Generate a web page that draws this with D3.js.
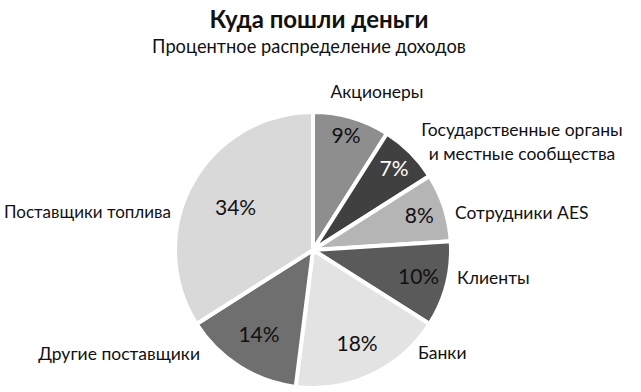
<!DOCTYPE html>
<html><head><meta charset="utf-8">
<script src="https://cdn.jsdelivr.net/npm/d3@7"></script>
<style>body{margin:0;background:#fff}</style>
</head><body>
<svg id="c" width="641" height="392"></svg>
<script>
const categories = ["Акционеры", "Государственные органы и местные сообщества", "Сотрудники AES", "Клиенты", "Банки", "Другие поставщики", "Поставщики топлива"];
const values = [9, 7, 8, 10, 18, 14, 34];
const colors = ["#8e8e8e", "#404040", "#b5b5b5", "#5a5a5a", "#e3e3e3", "#6f6f6f", "#d9d9d9"];
const labelLines = [["Акционеры"], ["Государственные органы", "и местные сообщества"], ["Сотрудники AES"], ["Клиенты"], ["Банки"], ["Другие поставщики"], ["Поставщики топлива"]];

const svg = d3.select("#c");
const font = "Lato, 'Open Sans', sans-serif";
const cx = 313, cy = 250, R = 138;

svg.append("text").attr("x", 319).attr("y", 20).attr("dy", "0.35em").attr("text-anchor", "middle")
  .attr("font-family", font).attr("font-weight", "bold").attr("font-size", 24).attr("fill", "#111").text("Куда пошли деньги");
svg.append("text").attr("x", 309).attr("y", 47).attr("dy", "0.35em").attr("text-anchor", "middle")
  .attr("font-family", font).attr("font-size", 18.3).attr("fill", "#111").text("Процентное распределение доходов");

const pie = d3.pie().sort(null).value(d => d)(values);
const arc = d3.arc().innerRadius(0).outerRadius(R);
const g = svg.append("g").attr("transform", `translate(${cx},${cy})`);
g.selectAll("path").data(pie).join("path")
  .attr("d", arc).attr("fill", (d, i) => colors[i])
  .attr("stroke", "#fff").attr("stroke-width", 4).attr("stroke-linejoin", "round");

// percentage label placement (radius fraction per slice)
const pctR = [0.86, 0.83, 0.81, 0.79, 0.75, 0.73, 0.64];
g.selectAll("text.pct").data(pie).join("text").attr("class", "pct")
  .attr("transform", (d, i) => {
    const r = R * pctR[i];
    return `translate(${d3.arc().innerRadius(r).outerRadius(r).centroid(d)})`;
  })
  .attr("text-anchor", "middle").attr("dy", "0.35em")
  .attr("font-family", font).attr("font-size", 21)
  .attr("fill", (d, i) => (i === 1 ? "#fff" : "#111"))
  .text(d => d.data + "%");

// outer category labels (absolute layout positions)
const labelPos = [
  {x: 377, y: 92, a: "middle", s: 17.5},
  {x: 522, y: 130, a: "middle", s: 17.5},
  {x: 455, y: 213, a: "start", s: 17.5},
  {x: 457, y: 278, a: "start", s: 17.5},
  {x: 418, y: 353, a: "start", s: 17.5},
  {x: 200, y: 354, a: "end", s: 17.5},
  {x: 171, y: 212, a: "end", s: 17}
];
labelLines.forEach((lines, i) => {
  const p = labelPos[i];
  const t = svg.append("text").attr("text-anchor", p.a)
    .attr("font-family", font).attr("font-size", p.s).attr("fill", "#111");
  lines.forEach((ln, k) => {
    t.append("tspan").attr("x", p.x).attr("y", p.y + k * 24).attr("dy", "0.35em").text(ln);
  });
});
</script>
</body></html>
